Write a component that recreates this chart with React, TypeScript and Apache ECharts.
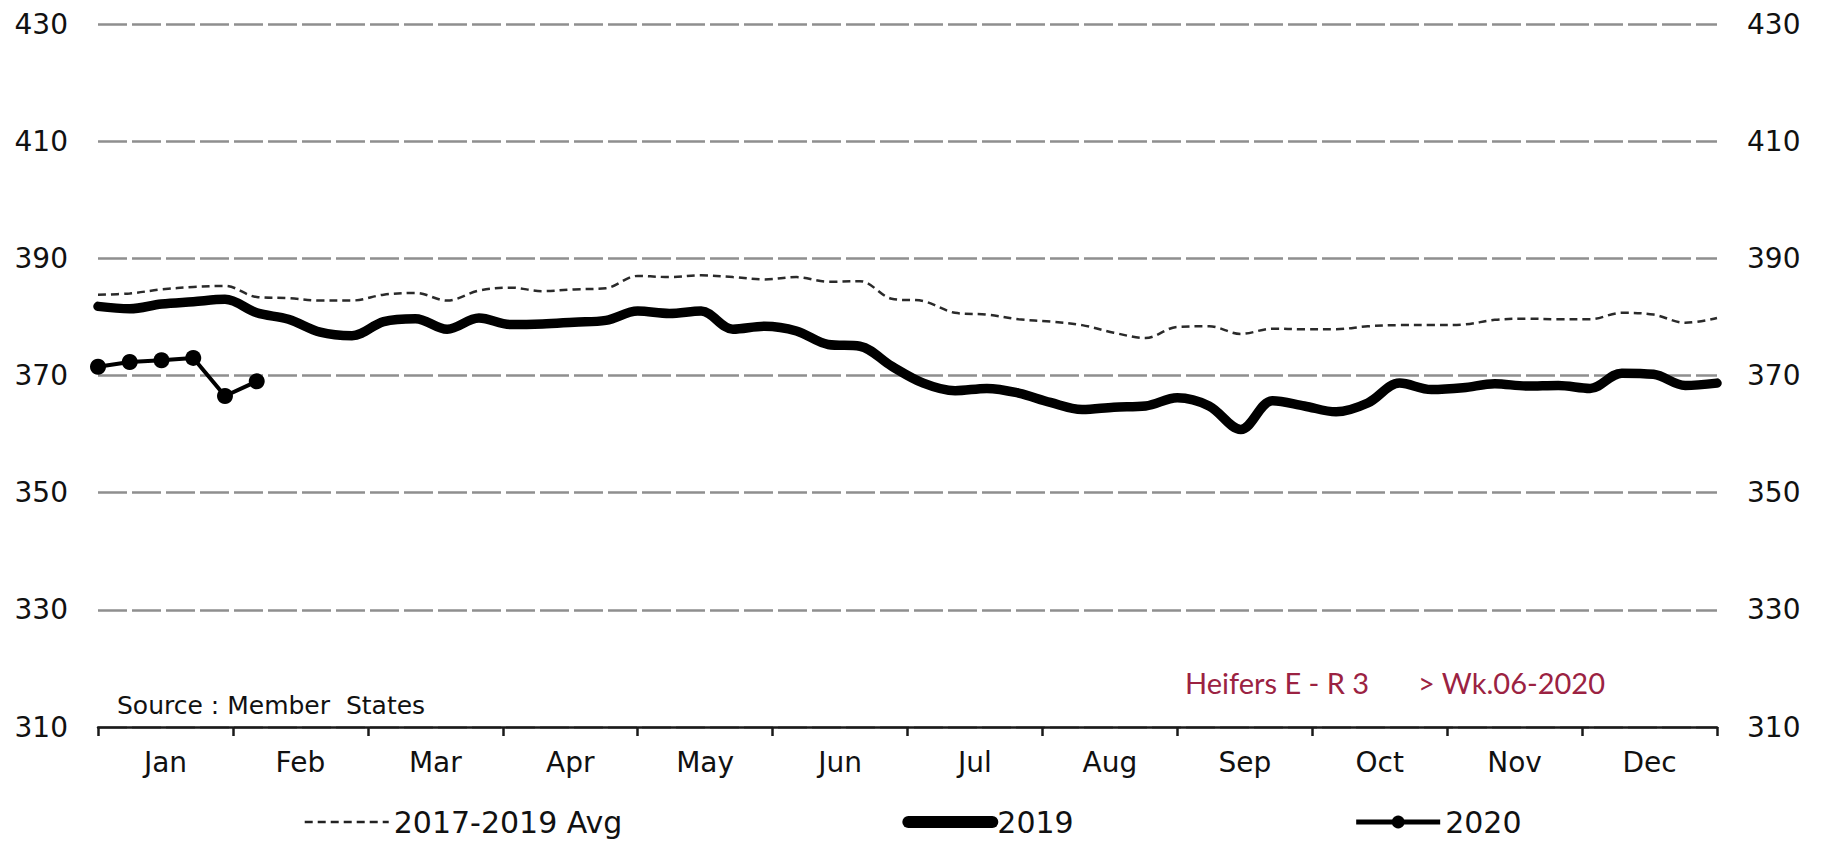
import React, { useEffect, useRef } from "react";
import * as echarts from "echarts";

const weeks = [
  "1", "2", "3", "4", "5", "6", "7", "8", "9", "10", "11", "12", "13",
  "14", "15", "16", "17", "18", "19", "20", "21", "22", "23", "24", "25", "26",
  "27", "28", "29", "30", "31", "32", "33", "34", "35", "36", "37", "38", "39",
  "40", "41", "42", "43", "44", "45", "46", "47", "48", "49", "50", "51", "52",
];

const months = ["Jan", "Feb", "Mar", "Apr", "May", "Jun", "Jul", "Aug", "Sep", "Oct", "Nov", "Dec"];

const avg2017_2019 = [
  383.8, 384.0, 384.7, 385.1, 385.3, 383.4, 383.2, 382.8, 382.8, 383.8,
  384.1, 382.8, 384.5, 385.0, 384.4, 384.7, 384.9, 387.0, 386.8, 387.1,
  386.8, 386.4, 386.8, 386.0, 386.1, 383.1, 382.7, 380.7, 380.4, 379.6,
  379.2, 378.6, 377.3, 376.4, 378.3, 378.4, 377.1, 378.0, 377.9, 377.9,
  378.4, 378.6, 378.6, 378.7, 379.5, 379.7, 379.6, 379.6, 380.7, 380.4,
  379.0, 379.8,
];

const y2019 = [
  381.8, 381.4, 382.2, 382.6, 383.0, 380.7, 379.6, 377.4, 376.8, 379.2,
  379.7, 377.9, 379.8, 378.7, 378.8, 379.1, 379.4, 381.0, 380.6, 381.0,
  377.9, 378.4, 377.6, 375.3, 375.0, 371.6, 368.7, 367.4, 367.8, 367.0,
  365.4, 364.2, 364.6, 364.8, 366.2, 364.8, 360.8, 365.7, 364.8, 363.8,
  365.3, 368.7, 367.6, 367.9, 368.6, 368.2, 368.3, 367.8, 370.4, 370.2,
  368.3, 368.7,
];

const y2020 = [371.5, 372.3, 372.6, 373.0, 366.5, 369.0];

const yMin = 310;
const yMax = 430;
const yStep = 20;

const seriesNames = ["2017-2019 Avg", "2019", "2020"];
const sourceText = "Source : Member  States";
const titleLeft = "Heifers E - R 3";
const titleRight = "> Wk.06-2020";

export default function App() {
  const ref = useRef<HTMLDivElement>(null);

  useEffect(() => {
    document.body.style.margin = "0";
    const chart = echarts.init(ref.current!, null, { renderer: "svg" });
    const labelFont = "DejaVu Sans";
    chart.setOption({
      animation: false,
      backgroundColor: "#ffffff",
      textStyle: { fontFamily: labelFont },
      grid: { left: 98, right: 108, top: 24, bottom: 123, containLabel: false },
      xAxis: [
        {
          type: "category",
          data: months,
          position: "bottom",
          boundaryGap: true,
          axisLine: { lineStyle: { color: "#1a1a1a", width: 2.5 } },
          axisTick: { show: true, length: 9, lineStyle: { color: "#1a1a1a", width: 2.5 } },
          axisLabel: { color: "#111", fontSize: 28, fontFamily: labelFont, margin: 21 },
          splitLine: { show: false },
        },
        {
          type: "category",
          data: weeks,
          boundaryGap: false,
          show: false,
        },
      ],
      yAxis: [
        {
          type: "value",
          min: yMin,
          max: yMax,
          interval: yStep,
          position: "left",
          axisLine: { show: false },
          axisTick: { show: false },
          axisLabel: { color: "#111", fontSize: 28, fontFamily: labelFont, margin: 30 },
          splitLine: { show: true, lineStyle: { color: "#8f8f8f", width: 2.5, type: [29, 5] } },
        },
        {
          type: "value",
          min: yMin,
          max: yMax,
          interval: yStep,
          position: "right",
          axisLine: { show: false },
          axisTick: { show: false },
          axisLabel: { color: "#111", fontSize: 28, fontFamily: labelFont, margin: 30 },
          splitLine: { show: false },
        },
      ],
      legend: {
        top: 802,
        left: "center",
        itemGap: 280,
        itemWidth: 84,
        itemHeight: 16,
        textStyle: { color: "#111", fontSize: 30, fontFamily: labelFont },
        data: [
          {
            name: seriesNames[0],
            lineStyle: { width: 2.5, color: "#222", type: [8, 5] },
            itemStyle: { opacity: 0, color: "#000" },
          },
          {
            name: seriesNames[1],
            lineStyle: { width: 12, color: "#000", cap: "round" },
            itemStyle: { opacity: 0, color: "#000" },
          },
          {
            name: seriesNames[2],
            lineStyle: { width: 5, color: "#000" },
            itemStyle: { color: "#000" },
          },
        ],
      },
      graphic: [
        {
          type: "text",
          x: 117,
          y: 705,
          style: {
            text: sourceText,
            font: `25px "${labelFont}"`,
            fill: "#111",
            textVerticalAlign: "middle",
          },
        },
        {
          type: "text",
          x: 1185,
          y: 682,
          style: {
            text: titleLeft,
            font: "29px Lato",
            fill: "#9b2242",
            textVerticalAlign: "middle",
          },
        },
        {
          type: "text",
          x: 1418,
          y: 682,
          style: {
            text: titleRight,
            font: "29px Lato",
            fill: "#9b2242",
            textVerticalAlign: "middle",
          },
        },
      ],
      series: [
        {
          name: seriesNames[0],
          type: "line",
          xAxisIndex: 1,
          yAxisIndex: 0,
          data: avg2017_2019,
          smooth: 0.35,
          symbol: "none",
          itemStyle: { color: "#000" },
          lineStyle: { color: "#2a2a2a", width: 2.5, type: [8, 5] },
          z: 3,
        },
        {
          name: seriesNames[1],
          type: "line",
          xAxisIndex: 1,
          yAxisIndex: 0,
          data: y2019,
          smooth: 0.35,
          symbol: "none",
          itemStyle: { color: "#000" },
          lineStyle: { color: "#000", width: 9.5, cap: "round", join: "round" },
          z: 4,
        },
        {
          name: seriesNames[2],
          type: "line",
          xAxisIndex: 1,
          yAxisIndex: 0,
          data: y2020,
          symbol: "circle",
          symbolSize: 16,
          itemStyle: { color: "#000" },
          lineStyle: { color: "#000", width: 4 },
          z: 5,
        },
      ],
    });
    return () => chart.dispose();
  }, []);

  return <div ref={ref} style={{ width: 1825, height: 850 }} />;
}
